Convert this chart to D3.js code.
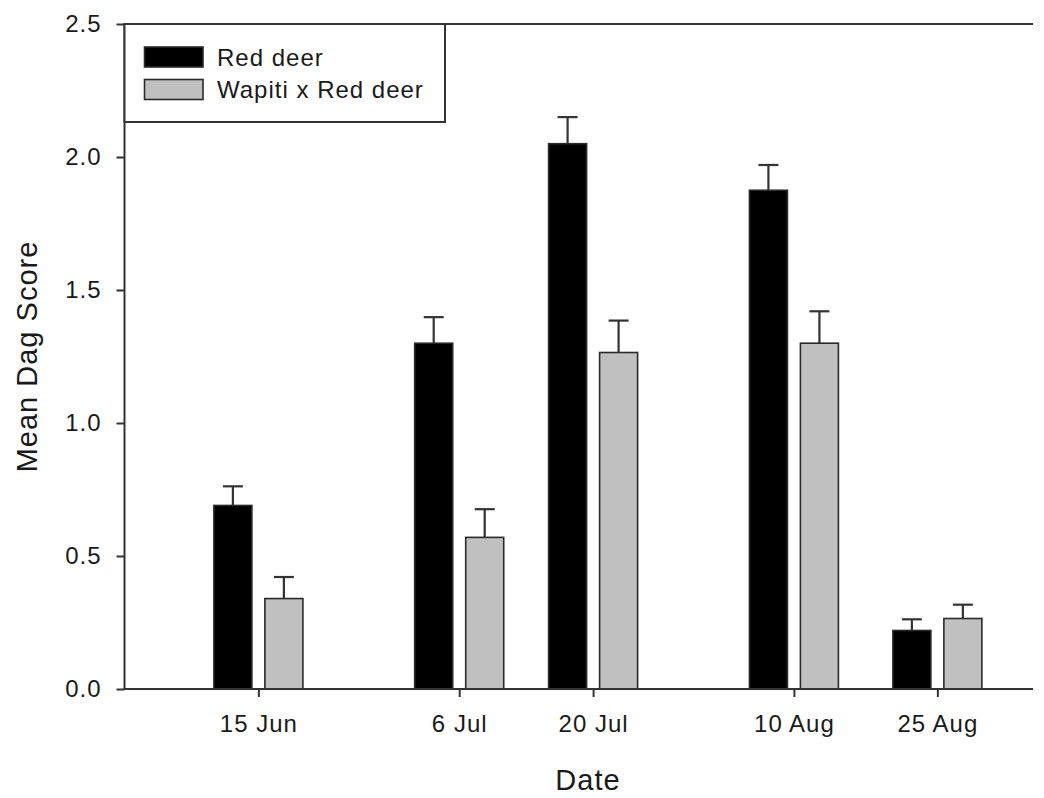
<!DOCTYPE html>
<html>
<head>
<meta charset="utf-8">
<script src="https://cdn.jsdelivr.net/npm/d3@7"></script>
<style>
  html, body { margin: 0; padding: 0; background: #fff; }
  svg { display: block; }
  text { font-family: "Liberation Sans", Arial, sans-serif; fill: #1a1a1a; letter-spacing: 1px; }
</style>
</head>
<body>
<svg id="chart" width="1044" height="798"></svg>
<script>
// Sampling dates (day, month index) and mean dag scores with standard errors
const dates = [[15, 5], [6, 6], [20, 6], [10, 7], [25, 7]];
const dateLabels = ["15 Jun", "6 Jul", "20 Jul", "10 Aug", "25 Aug"];
const seriesNames = ["Red deer", "Wapiti x Red deer"];
const redDeer = [0.69, 1.30, 2.05, 1.875, 0.22];
const redDeerSE = [0.072, 0.098, 0.10, 0.095, 0.042];
const hybrid = [0.34, 0.57, 1.265, 1.30, 0.265];
const hybridSE = [0.081, 0.106, 0.12, 0.12, 0.052];
const yTicks = [0.0, 0.5, 1.0, 1.5, 2.0, 2.5];

const fills = ["#000000", "#c0c0c0"];
const outline = "#2a2a2a";

const svg = d3.select("#chart");
const plotL = 124.5, plotR = 1033, plotT = 24, plotB = 689;

const when = dates.map(([d, m]) => new Date(Date.UTC(2001, m, d)));
const x = d3.scaleUtc()
  .domain([new Date(Date.UTC(2001, 5, 1)), new Date(Date.UTC(2001, 8, 4))])
  .range([plotL, plotR]);
const y = d3.scaleLinear().domain([0, 2.5]).range([plotB, plotT]);

const series = [
  { name: seriesNames[0], values: redDeer, se: redDeerSE, fill: fills[0], shift: -25.5 },
  { name: seriesNames[1], values: hybrid, se: hybridSE, fill: fills[1], shift: 25.5 }
];
const barW = 38;

// Bars with upper error bars
series.forEach(s => {
  const g = svg.append("g");
  g.selectAll("rect").data(s.values).join("rect")
    .attr("x", (v, i) => x(when[i]) + s.shift - barW / 2)
    .attr("y", v => y(v))
    .attr("width", barW)
    .attr("height", v => y(0) - y(v))
    .attr("fill", s.fill)
    .attr("stroke", outline)
    .attr("stroke-width", 1.6);

  const e = svg.append("g").attr("stroke", "#333").attr("stroke-width", 2.2).attr("fill", "none");
  s.values.forEach((v, i) => {
    const cx = x(when[i]) + s.shift;
    e.append("line").attr("x1", cx).attr("x2", cx).attr("y1", y(v)).attr("y2", y(v + s.se[i]));
    e.append("line").attr("x1", cx - 10).attr("x2", cx + 10).attr("y1", y(v + s.se[i])).attr("y2", y(v + s.se[i]));
  });
});

// Axes
const yAxis = d3.axisLeft(y).tickValues(yTicks).tickFormat(d3.format(".1f")).tickSize(8).tickPadding(15);
const yg = svg.append("g").attr("transform", `translate(${plotL},0)`).call(yAxis);
yg.select(".domain").remove();
yg.selectAll(".tick line").attr("stroke", "#333").attr("stroke-width", 2);
yg.selectAll(".tick text").attr("font-size", 24).style("font-family", "Liberation Sans, Arial, sans-serif").attr("fill", "#1a1a1a");

const xAxis = d3.axisBottom(x).tickValues(when).tickFormat((d, i) => dateLabels[i]).tickSize(8).tickPadding(18);
const xg = svg.append("g").attr("transform", `translate(0,${plotB})`).call(xAxis);
xg.select(".domain").remove();
xg.selectAll(".tick line").attr("stroke", "#333").attr("stroke-width", 2);
xg.selectAll(".tick text").attr("font-size", 24).style("font-family", "Liberation Sans, Arial, sans-serif").attr("fill", "#1a1a1a");

// Frame lines: left, bottom, top
const frame = svg.append("g").attr("stroke", "#333").attr("stroke-width", 2).attr("fill", "none");
frame.append("line").attr("x1", plotL).attr("x2", plotL).attr("y1", plotT).attr("y2", plotB);
frame.append("line").attr("x1", plotL - 1).attr("x2", plotR).attr("y1", plotB).attr("y2", plotB);
frame.append("line").attr("x1", plotL - 1).attr("x2", plotR).attr("y1", plotT).attr("y2", plotT);

// Axis titles
svg.append("text")
  .attr("transform", `translate(37,${(plotT + plotB) / 2}) rotate(-90)`)
  .attr("text-anchor", "middle")
  .attr("font-size", 29)
  .text("Mean Dag Score");
svg.append("text")
  .attr("x", 588).attr("y", 790)
  .attr("text-anchor", "middle")
  .attr("font-size", 29)
  .text("Date");

// Legend
const lg = svg.append("g");
lg.append("rect").attr("x", plotL).attr("y", plotT).attr("width", 445 - plotL).attr("height", 122 - plotT)
  .attr("fill", "#fff").attr("stroke", "#333").attr("stroke-width", 2);
series.forEach((s, i) => {
  lg.append("rect").attr("x", 144.5).attr("y", 47 + i * 32.5).attr("width", 58.5).attr("height", 20)
    .attr("fill", s.fill).attr("stroke", outline).attr("stroke-width", 1.6);
  lg.append("text").attr("x", 217).attr("y", 65.5 + i * 32.5).attr("font-size", 24).text(s.name);
});
</script>
</body>
</html>
